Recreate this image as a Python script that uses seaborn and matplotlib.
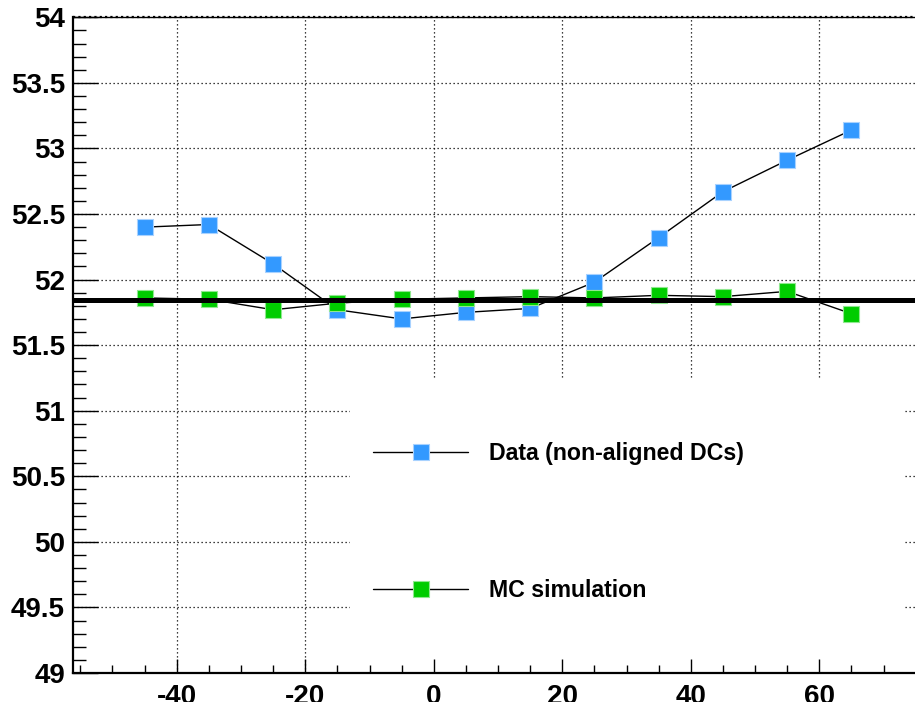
import matplotlib
matplotlib.use("Agg")
import matplotlib.pyplot as plt
from matplotlib.patches import Rectangle
from matplotlib.ticker import MultipleLocator, FormatStrFormatter
import numpy as np
import pandas as pd
import seaborn as sns

# Measured positions (cm) and fitted values
positions = [-45, -35, -25, -15, -5, 5, 15, 25, 35, 45, 55, 65]
data_values = [52.40, 52.42, 52.12, 51.77, 51.70, 51.75, 51.78, 51.98, 52.32, 52.67, 52.91, 53.14]
mc_values = [51.86, 51.85, 51.77, 51.82, 51.85, 51.86, 51.87, 51.86, 51.88, 51.87, 51.91, 51.74]
reference_level = 51.845
series_labels = ["Data (non-aligned DCs)", "MC simulation"]

x_ticks = [-40, -20, 0, 20, 40, 60]
y_ticks = [49, 49.5, 50, 50.5, 51, 51.5, 52, 52.5, 53, 53.5, 54]

sns.set_theme(style="white")
plt.rcParams["font.family"] = ["Liberation Sans", "DejaVu Sans"]
plt.rcParams["font.weight"] = "bold"
plt.rcParams["text.color"] = "black"
plt.rcParams["xtick.color"] = "black"
plt.rcParams["ytick.color"] = "black"
plt.rcParams["axes.axisbelow"] = False

W, H = 915, 702
fig = plt.figure(figsize=(W / 100, H / 100), dpi=100)
left_px, top_px, bottom_px = 73.3, 17.3, 673.0
ax = fig.add_axes([left_px / W, (H - bottom_px) / H, (W - left_px) / W, (bottom_px - top_px) / H])
ax.set_axisbelow(False)

df = pd.DataFrame({"pos": positions, "data": data_values, "mc": mc_values})

blue = "#3399ff"
green = "#00cc00"
common = dict(color="black", linewidth=1.0, marker="s", markersize=11,
              markeredgewidth=0.8, zorder=3, legend=False)
sns.lineplot(data=df, x="pos", y="data", ax=ax, markerfacecolor=blue,
             markeredgecolor="#a8d2ff", **common)
sns.lineplot(data=df, x="pos", y="mc", ax=ax, markerfacecolor=green,
             markeredgecolor="#8fe88f", **common)

ax.axhline(reference_level, color="black", linewidth=3.6, zorder=5)

ax.set_xlim(-56.1, 74.9)
ax.set_ylim(49, 54)

# dotted grid drawn as plain reference lines so the legend panel can hide them
grid_style = dict(color="black", linewidth=0.9, linestyle=(0, (1, 2.2)), zorder=0.5)
for xv in x_ticks:
    ax.axvline(xv, **grid_style)
for yv in y_ticks[1:-1]:
    ax.axhline(yv, **grid_style)
ax.axhline(54, color="black", linewidth=1.0, zorder=0.5, clip_on=False)
ax.axhline(54, color="black", linewidth=1.6, linestyle=(0, (1, 1.4)), zorder=0.5, clip_on=False)

# white legend panel
ax.add_patch(Rectangle((350 / W, (H - 672) / H), (903 - 350) / W, (672 - 378) / H,
                       transform=fig.transFigure, facecolor="white", edgecolor="none",
                       zorder=1))

ax.xaxis.set_major_locator(MultipleLocator(20))
ax.xaxis.set_minor_locator(MultipleLocator(5))
ax.yaxis.set_major_locator(MultipleLocator(0.5))
ax.yaxis.set_minor_locator(MultipleLocator(0.1))
ax.yaxis.set_major_formatter(FormatStrFormatter("%g"))
ax.xaxis.set_major_formatter(FormatStrFormatter("%g"))

ax.tick_params(axis="x", which="major", direction="in", length=10, width=1.0,
               labelsize=20, pad=8, bottom=True, colors="black")
ax.tick_params(axis="x", which="minor", direction="in", length=6, width=1.0, bottom=True,
               colors="black")
ax.tick_params(axis="y", which="major", direction="in", length=18, width=1.0,
               labelsize=20, pad=6, left=True, colors="black")
ax.tick_params(axis="y", which="minor", direction="in", length=9.4, width=1.0, left=True,
               colors="black")
for lab in ax.get_xticklabels() + ax.get_yticklabels():
    lab.set_fontweight("bold")
    lab.set_color("black")

for side in ("top", "right"):
    ax.spines[side].set_visible(False)
for side in ("left", "bottom"):
    ax.spines[side].set_linewidth(1.6)
    ax.spines[side].set_color("black")
    ax.spines[side].set_zorder(6)

ax.set_xlabel("")
ax.set_ylabel("")

handles = ax.get_lines()[:2]
leg = ax.legend(handles, series_labels, loc="center left",
                bbox_to_anchor=(373 / W, 1 - 522.0 / H), bbox_transform=fig.transFigure,
                frameon=False, handlelength=4.1, handletextpad=0.9, labelspacing=4.93,
                borderpad=0, borderaxespad=0, numpoints=1,
                prop={"family": "Liberation Sans", "weight": "bold", "size": 16.7})
for t in leg.get_texts():
    t.set_color("black")
leg.set_zorder(7)

fig.savefig("out.png", dpi=100)
